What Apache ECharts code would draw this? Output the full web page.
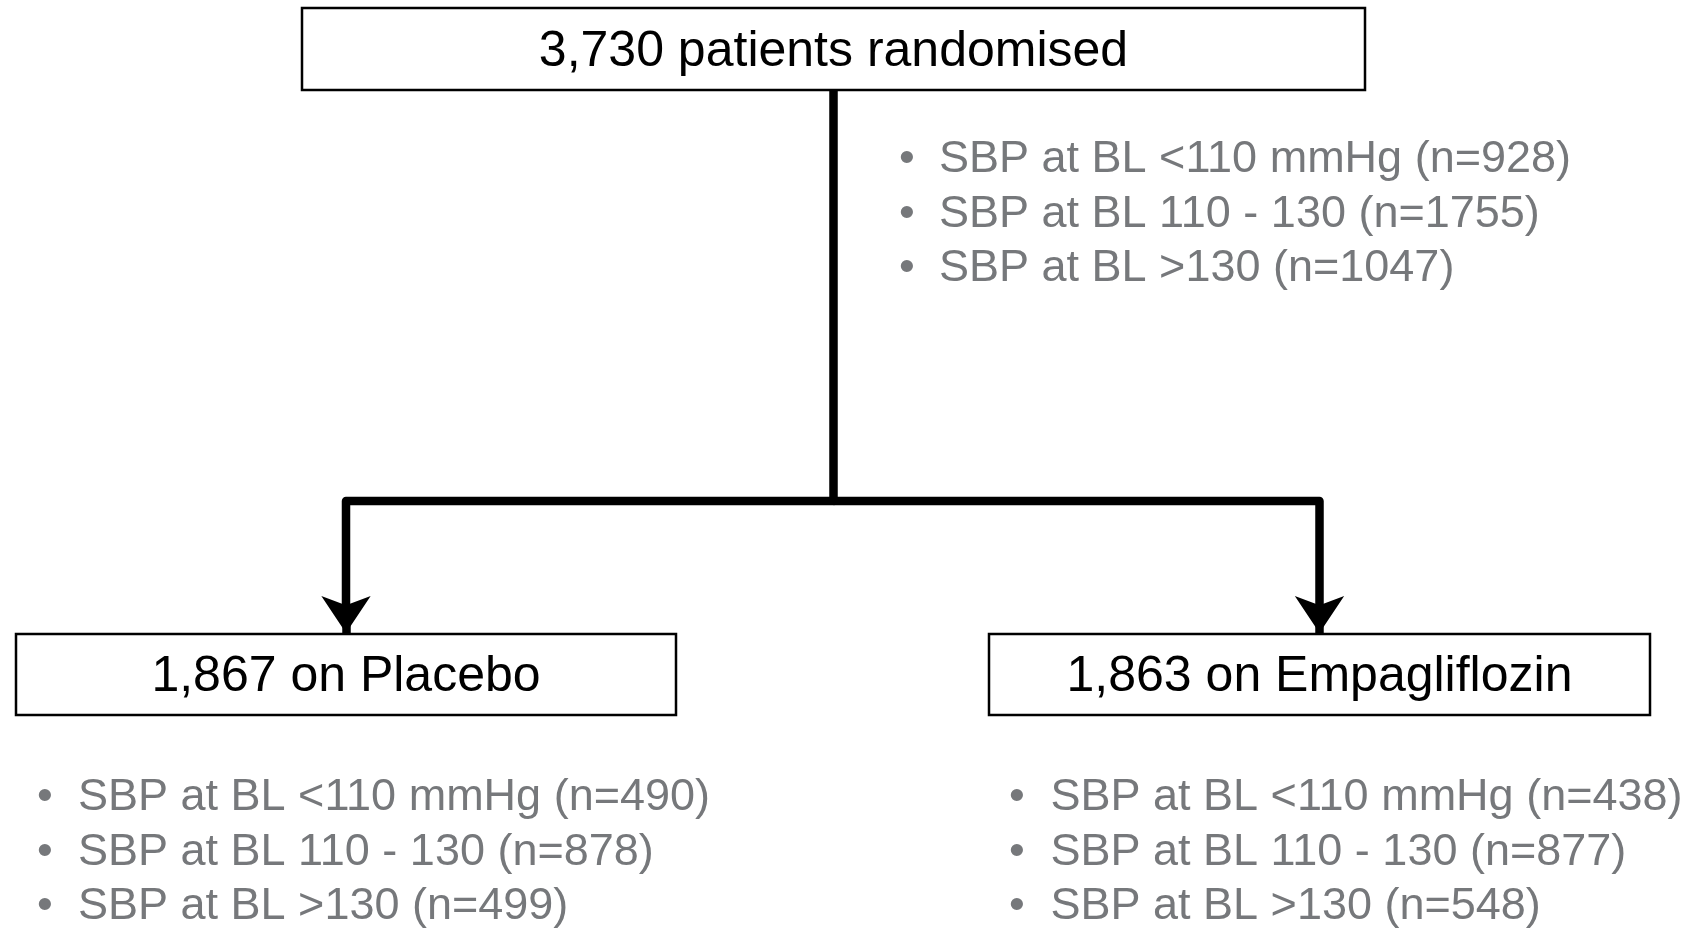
<!DOCTYPE html>
<html>
<head>
<meta charset="utf-8">
<script src="https://cdn.jsdelivr.net/npm/echarts@6/dist/echarts.min.js"></script>
<style>
  html, body { margin: 0; padding: 0; background: #fff; }
  #flow { width: 1693px; height: 928px; }
</style>
</head>
<body>
<div id="flow"></div>
<script>
// chart content
const topLabel = '3,730 patients randomised';
const armLabels = ['1,867 on Placebo', '1,863 on Empagliflozin'];
const sbpGroups = ['SBP at BL <110 mmHg', 'SBP at BL 110 - 130', 'SBP at BL >130'];
const totalCounts = [928, 1755, 1047];
const placeboCounts = [490, 878, 499];
const empaCounts = [438, 877, 548];

// layout (pixel units of the hidden axes)
const boxes = [
    [833.5, 49, 1063, 82],
    [346, 674.5, 660, 81],
    [1319.5, 674.5, 661, 81]
];
const trunkX = 833.5, branchY = 501, arrowTipY = 633;
const lists = [
    { bulletX: 907, textX: 939, y0: 160, counts: totalCounts },
    { bulletX: 45, textX: 78, y0: 798, counts: placeboCounts },
    { bulletX: 1017, textX: 1050.5, y0: 798, counts: empaCounts }
];
const rowGap = 54.5;
const FONT = '"Liberation Sans", Arial, Helvetica, sans-serif';
const GREY = '#76787b';

const boxTexts = [topLabel].concat(armLabels);

const listData = [];
lists.forEach(function (l) {
    sbpGroups.forEach(function (g, i) {
        listData.push([l.bulletX, l.textX, l.y0 + i * rowGap, g + ' (n=' + l.counts[i] + ')']);
    });
});

const chart = echarts.init(document.getElementById('flow'), null, { renderer: 'canvas' });

const lineStyle = { color: '#000', width: 8.5, opacity: 1, join: 'round', cap: 'butt' };

const option = {
    backgroundColor: '#fff',
    animation: false,
    grid: { left: 0, right: 0, top: 0, bottom: 0 },
    xAxis: { type: 'value', min: 0, max: 1693, show: false },
    yAxis: { type: 'value', min: 0, max: 928, inverse: true, show: false },
    series: [
        {
            // trunk, branch and most of the drops
            type: 'lines',
            coordinateSystem: 'cartesian2d',
            polyline: true,
            lineStyle: lineStyle,
            z: 1,
            data: [
                { coords: [[trunkX, boxes[0][1] + boxes[0][3] / 2], [trunkX, branchY], [boxes[1][0], branchY], [boxes[1][0], arrowTipY - 15]] },
                { coords: [[trunkX, branchY], [boxes[2][0], branchY], [boxes[2][0], arrowTipY - 15]] }
            ]
        },
        {
            // arrow heads
            type: 'lines',
            coordinateSystem: 'cartesian2d',
            symbol: ['none', 'arrow'],
            symbolSize: [58, 37],
            lineStyle: lineStyle,
            z: 1,
            data: [
                { coords: [[boxes[1][0], arrowTipY - 20], [boxes[1][0], arrowTipY]] },
                { coords: [[boxes[2][0], arrowTipY - 20], [boxes[2][0], arrowTipY]] }
            ]
        },
        {
            type: 'custom',
            coordinateSystem: 'cartesian2d',
            z: 2,
            data: boxes,
            renderItem: function (params, api) {
                const cx = api.value(0), cy = api.value(1), w = api.value(2), h = api.value(3);
                const p0 = api.coord([cx - w / 2, cy - h / 2]);
                const p1 = api.coord([cx + w / 2, cy + h / 2]);
                const c = api.coord([cx, cy]);
                return {
                    type: 'group',
                    children: [
                        {
                            type: 'rect',
                            shape: { x: p0[0], y: p0[1], width: p1[0] - p0[0], height: p1[1] - p0[1] },
                            style: { fill: '#fff', stroke: '#000', lineWidth: 2.5 }
                        },
                        {
                            type: 'text',
                            x: c[0], y: c[1] + 3,
                            style: {
                                text: boxTexts[params.dataIndex],
                                fill: '#000',
                                font: '50px ' + FONT,
                                align: 'center',
                                verticalAlign: 'middle'
                            }
                        }
                    ]
                };
            }
        },
        {
            type: 'custom',
            coordinateSystem: 'cartesian2d',
            z: 2,
            data: listData,
            renderItem: function (params, api) {
                const row = listData[params.dataIndex];
                const b = api.coord([row[0], row[2]]);
                const t = api.coord([row[1], row[2]]);
                return {
                    type: 'group',
                    children: [
                        {
                            type: 'text',
                            x: b[0], y: b[1],
                            style: { text: '\u2022', fill: GREY, font: '45px ' + FONT, align: 'center', verticalAlign: 'middle' }
                        },
                        {
                            type: 'text',
                            x: t[0], y: t[1],
                            style: { text: row[3], fill: GREY, font: '45px ' + FONT, align: 'left', verticalAlign: 'middle' }
                        }
                    ]
                };
            }
        }
    ]
};

chart.setOption(option);
window.addEventListener('resize', function () { chart.resize(); });
</script>
</body>
</html>
